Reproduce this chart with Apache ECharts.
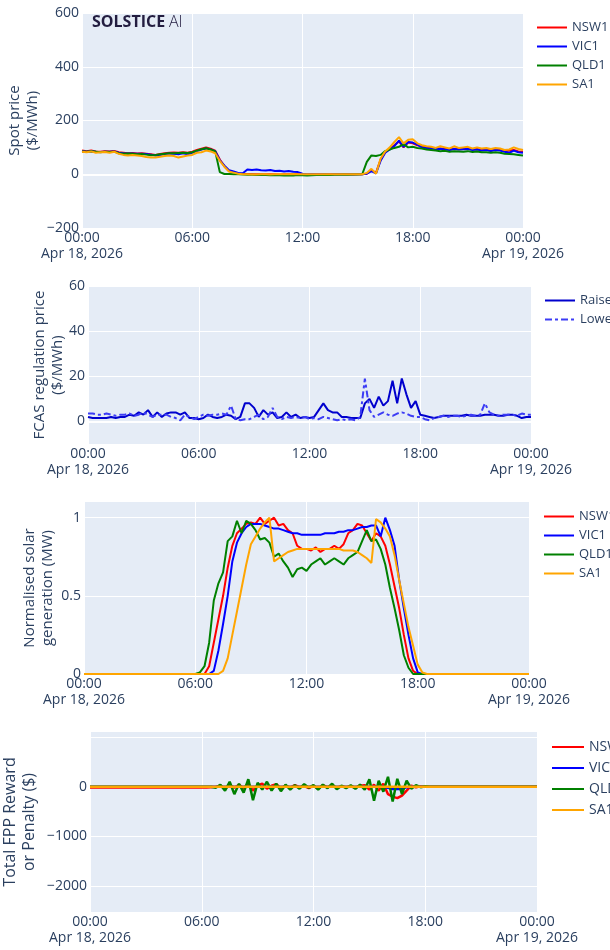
<!DOCTYPE html>
<html>
<head>
<meta charset="utf-8">
<title>NEM regional overview</title>
<script src="https://cdn.jsdelivr.net/npm/echarts@6/dist/echarts.min.js"></script>
<style>
  html, body { margin: 0; padding: 0; background: #fff; }
  #chart { width: 610px; height: 950px; }
</style>
</head>
<body>
<div id="chart"></div>
<script>
// 15-minute intervals, Apr 18 2026 00:00 -> Apr 19 2026 00:00 (97 points)
const STEP_HOURS = 0.25;
const xTickHours = [0, 6, 12, 18, 24];
const xTickLabels = ['00:00\nApr 18, 2026', '06:00', '12:00', '18:00', '00:00\nApr 19, 2026'];
const regions = ['NSW1', 'VIC1', 'QLD1', 'SA1'];
const regionColors = ['#ff0000', '#0000ff', '#008000', '#ffa500'];

// spot price ($/MWh)
const nswSpot = [
  88, 86, 88, 85, 84, 86, 85, 87, 82, 80, 78, 79, 77, 78, 76, 74, 72, 75, 78, 80, 81, 80, 82, 80,
  84, 90, 95, 100, 95, 88, 55, 30, 12, 8, 3, 1, 1, 0, 0, 0, 0, 0, 0, -1, 0, 0, 1, 0,
  -1, -1, 0, 0, 0, -1, 0, 0, 0, 0, 0, -1, 0, 0, 2, 15, 5, 55, 82, 95, 108, 122, 100, 118,
  115, 108, 104, 100, 98, 95, 96, 94, 92, 95, 93, 94, 96, 92, 94, 90, 91, 88, 92, 90, 86, 88, 90, 85, 84
];
const vicSpot = [
  86, 84, 86, 84, 83, 84, 84, 85, 80, 78, 77, 77, 76, 76, 75, 73, 70, 72, 75, 77, 76, 74, 78, 74,
  80, 86, 92, 96, 92, 86, 52, 32, 15, 10, 5, 4, 18, 16, 18, 15, 14, 16, 12, 13, 10, 12, 9, 8,
  2, 0, 1, 0, 0, 0, -1, 0, 0, 0, 0, 0, 0, 0, 2, 12, 3, 50, 80, 92, 105, 125, 102, 120,
  118, 110, 100, 98, 96, 94, 95, 92, 90, 94, 92, 93, 94, 90, 92, 88, 90, 86, 90, 88, 84, 80, 88, 82, 80
];
const qldSpot = [
  85, 84, 86, 84, 82, 84, 83, 84, 78, 76, 77, 76, 74, 75, 73, 71, 72, 74, 76, 78, 78, 79, 80, 79,
  82, 88, 93, 97, 92, 85, 8, 1, 1, 0, 0, -1, -2, -2, -3, -2, -3, -4, -3, -4, -5, -4, -5, -3,
  -4, -5, -4, -3, -3, -2, -3, -2, -2, -1, -2, -1, -1, 0, 46, 70, 68, 72, 86, 92, 98, 102, 112, 100,
  102, 98, 96, 92, 90, 88, 86, 87, 84, 86, 85, 84, 86, 83, 85, 82, 82, 80, 82, 80, 76, 75, 74, 72, 70
];
const saSpot = [
  84, 82, 85, 80, 82, 83, 80, 84, 76, 72, 70, 72, 70, 68, 64, 62, 62, 65, 68, 70, 68, 62, 66, 70,
  72, 80, 82, 88, 85, 78, 50, 28, 10, 6, 2, 0, 0, -1, -1, 0, 0, -1, 0, 0, 0, 0, 1, 0,
  0, 0, 0, 0, 0, 0, 0, 0, 0, 0, 0, 0, 0, 0, 5, 20, 2, 58, 85, 100, 120, 138, 115, 128,
  130, 115, 108, 104, 102, 98, 104, 100, 96, 104, 98, 100, 102, 96, 100, 96, 98, 94, 98, 96, 90, 92, 100, 94, 90
];

// FCAS regulation price ($/MWh)
const raisePrice = [
  2, 1.5, 1.5, 1.5, 1.5, 2, 1.5, 2, 2, 3, 2.5, 4, 3, 5, 2, 4, 2, 3.5, 4, 4, 3, 4, 1.5, 1.5,
  1, 1.5, 3, 2, 1.5, 2, 3, 2.5, 1, 2, 8, 8, 6, 2, 5, 3, 4, 1.5, 2, 4, 2, 3, 1.5, 2,
  1.5, 2, 5, 8, 5, 4, 4, 2, 2, 1.5, 1.5, 1.5, 8, 10, 6, 11, 7, 9, 18, 8, 19, 12, 6, 9,
  3, 2.5, 2, 1.5, 2, 2.5, 2.5, 2.5, 2.5, 2.5, 3, 2.5, 2.5, 2.5, 3, 3, 3, 2.5, 2.5, 3, 3, 2.5, 1.5, 2, 2
];
const lowerPrice = [
  3.5, 3.5, 3, 3, 3.5, 3, 2.5, 3, 3, 3.5, 2.5, 3, 4, 3, 2, 3, 3, 3, 2, 1.5, 0.5, 3, 2, 1,
  2, 3, 2.5, 3, 3, 3.5, 3, 7, 1, 0.5, 1, 1, 2, 3, 1, 2, 6, 2, 1, 2, 1.5, 2, 1.5, 2,
  1, 1.5, 1, 2, 1.5, 1, 0.5, 1, 0.5, 1, 0.5, 2, 19, 5, 2, 3, 4, 3, 2.5, 3.5, 4, 3.5, 2.5, 2,
  2, 1, 0.5, 1.5, 2, 2.5, 2, 2.5, 2.5, 2, 2.5, 3, 2.5, 3, 8, 4, 3, 2.5, 3, 3, 3, 2.5, 3.5, 3, 3
];

// normalised solar generation
const nswSolar = [
  0, 0, 0, 0, 0, 0, 0, 0, 0, 0, 0, 0, 0, 0, 0, 0, 0, 0, 0, 0, 0, 0, 0, 0,
  0, 0, 0, 0.05, 0.2, 0.35, 0.5, 0.68, 0.82, 0.9, 0.93, 0.96, 0.97, 0.96, 1.0, 0.96, 0.98, 1.0, 0.95, 0.96, 0.92, 0.9, 0.82, 0.8,
  0.8, 0.79, 0.81, 0.78, 0.8, 0.8, 0.82, 0.8, 0.83, 0.9, 0.92, 0.96, 0.95, 0.9, 0.85, 0.9, 0.88, 0.82, 0.7, 0.56, 0.42, 0.25, 0.1, 0.02,
  0, 0, 0, 0, 0, 0, 0, 0, 0, 0, 0, 0, 0, 0, 0, 0, 0, 0, 0, 0, 0, 0, 0, 0, 0
];
const vicSolar = [
  0, 0, 0, 0, 0, 0, 0, 0, 0, 0, 0, 0, 0, 0, 0, 0, 0, 0, 0, 0, 0, 0, 0, 0,
  0, 0, 0, 0, 0.02, 0.15, 0.32, 0.5, 0.72, 0.84, 0.9, 0.94, 0.96, 0.96, 0.96, 0.95, 0.94, 0.93, 0.93, 0.92, 0.91, 0.9, 0.9, 0.89,
  0.89, 0.89, 0.89, 0.89, 0.9, 0.9, 0.9, 0.91, 0.91, 0.92, 0.92, 0.93, 0.94, 0.94, 0.95, 0.95, 0.88, 1.0, 0.92, 0.82, 0.6, 0.42, 0.25, 0.1,
  0.01, 0, 0, 0, 0, 0, 0, 0, 0, 0, 0, 0, 0, 0, 0, 0, 0, 0, 0, 0, 0, 0, 0, 0, 0
];
const qldSolar = [
  0, 0, 0, 0, 0, 0, 0, 0, 0, 0, 0, 0, 0, 0, 0, 0, 0, 0, 0, 0, 0, 0, 0, 0,
  0, 0.01, 0.05, 0.2, 0.47, 0.58, 0.65, 0.85, 0.88, 0.98, 0.9, 0.98, 0.96, 0.92, 0.86, 0.87, 0.84, 0.75, 0.77, 0.72, 0.68, 0.62, 0.67, 0.68,
  0.66, 0.7, 0.72, 0.74, 0.7, 0.72, 0.74, 0.72, 0.7, 0.74, 0.76, 0.78, 0.85, 0.92, 0.85, 0.86, 0.8, 0.7, 0.55, 0.42, 0.28, 0.12, 0.04, 0,
  0, 0, 0, 0, 0, 0, 0, 0, 0, 0, 0, 0, 0, 0, 0, 0, 0, 0, 0, 0, 0, 0, 0, 0, 0
];
const saSolar = [
  0, 0, 0, 0, 0, 0, 0, 0, 0, 0, 0, 0, 0, 0, 0, 0, 0, 0, 0, 0, 0, 0, 0, 0,
  0, 0, 0, 0, 0, 0, 0.02, 0.1, 0.25, 0.4, 0.55, 0.7, 0.83, 0.88, 0.93, 0.97, 1.0, 0.72, 0.74, 0.76, 0.78, 0.79, 0.8, 0.8,
  0.8, 0.8, 0.8, 0.8, 0.8, 0.8, 0.8, 0.8, 0.79, 0.79, 0.79, 0.78, 0.76, 0.74, 0.71, 0.99, 0.97, 0.93, 0.88, 0.76, 0.6, 0.45, 0.3, 0.18,
  0.06, 0.01, 0, 0, 0, 0, 0, 0, 0, 0, 0, 0, 0, 0, 0, 0, 0, 0, 0, 0, 0, 0, 0, 0, 0
];

// total FPP reward or penalty ($)
const nswFpp = [
  -15, -15, -15, -15, -15, -15, -15, -15, -15, -15, -15, -15, -15, -15, -15, -15, -15, -15, -15, -15, -15, -15, -15, -15,
  -15, -15, -10, 0, 20, -40, 30, -20, 40, -30, 60, -80, 30, 60, -40, 20, 50, -30, 20, -20, 30, -10, 10, -30,
  20, -40, 30, -10, 20, -20, 10, -10, 10, -20, 20, 30, -60, 40, -80, 60, -150, -200, -230, -180, -80, 20, -10, 10,
  0, 0, 0, 0, 0, 0, 0, 0, 0, 0, 0, 0, 0, 0, 0, 0, 0, 0, 0, 0, 0, 0, 0, 0, 0
];
const vicFpp = [
  0, 0, 0, 0, 0, 0, 0, 0, 0, 0, 0, 0, 0, 0, 0, 0, 0, 0, 0, 0, 0, 0, 0, 0,
  0, 0, 0, 0, 0, 0, 0, 0, 0, 0, 0, 0, 0, 0, 0, 0, 0, 0, 0, 0, 0, 0, 0, 0,
  0, 0, 0, 0, 0, 0, 0, 0, 0, 0, 0, 0, 0, 0, 0, 0, -20, -45, -45, -45, -10, 0, 0, 0,
  0, 0, 0, 0, 0, 0, 0, 0, 0, 0, 0, 0, 0, 0, 0, 0, 0, 0, 0, 0, 0, 0, 0, 0, 0
];
const qldFpp = [
  0, 0, 0, 0, 0, 0, 0, 0, 0, 0, 0, 0, 0, 0, 0, 0, 0, 0, 0, 0, 0, 0, 0, 0,
  0, 0, 0, -20, 40, -80, 100, -150, 60, -120, 150, -270, 80, -60, 100, -80, 60, -90, 40, -60, 30, -40, 50, -20,
  30, -60, 40, -30, 60, -50, 20, -30, 30, -40, 40, -60, 150, -280, 120, -100, 200, -300, 160, -150, 120, -40, 30, -10,
  10, 0, 0, 0, 0, 0, 0, 0, 0, 0, 0, 0, 0, 0, 0, 0, 0, 0, 0, 0, 0, 0, 0, 0, 0
];
const saFpp = [
  0, 0, 0, 0, 0, 0, 0, 0, 0, 0, 0, 0, 0, 0, 0, 0, 0, 0, 0, 0, 0, 0, 0, 0,
  0, 0, 0, 0, 0, 0, 0, 0, 0, 0, 0, 0, 0, 0, 0, 0, 0, 0, 0, 0, 0, 0, 0, 0,
  0, 0, 0, 0, 0, 0, 0, 0, 0, 0, 0, 0, 0, 0, 0, 0, 0, 0, 0, 0, 0, 0, 0, 0,
  0, 0, 0, 0, 0, 0, 0, 0, 0, 0, 0, 0, 0, 0, 0, 0, 0, 0, 0, 0, 0, 0, 0, 0, 0
];

const FONT = '"Open Sans", "Noto Sans", sans-serif';
const TEXT = '#2a3f5f';

function toPoints(vals) {
  return vals.map((v, i) => [i * STEP_HOURS, v]);
}

function xLabel(v) {
  const i = xTickHours.indexOf(v);
  return i >= 0 ? xTickLabels[i] : '';
}

function yLabel(v) {
  return String(v).replace('-', '\u2212');
}

function makeX(gridIndex, fontSize) {
  return {
    type: 'value', gridIndex: gridIndex, min: 0, max: 24, interval: 6,
    axisLine: { show: false }, axisTick: { show: false },
    splitLine: { lineStyle: { color: '#ffffff', width: 1 } },
    axisLabel: {
      formatter: xLabel, color: TEXT, fontSize: fontSize, fontFamily: FONT,
      lineHeight: 16, margin: 2, showMinLabel: true, showMaxLabel: true, hideOverlap: false
    }
  };
}

function makeY(gridIndex, opts) {
  const y = {
    type: 'value', gridIndex: gridIndex, min: opts.min, max: opts.max,
    axisLine: { show: false },
    axisTick: { show: false },
    splitLine: { lineStyle: { color: '#ffffff', width: 1 } },
    axisLabel: { formatter: yLabel, color: TEXT, fontSize: opts.fontSize, fontFamily: FONT, margin: 3 },
    name: opts.name, nameLocation: 'middle', nameGap: opts.nameGap, nameMoveOverlap: false,
    nameTextStyle: { color: TEXT, fontSize: opts.nameSize, fontFamily: FONT, lineHeight: opts.nameSize + 3 }
  };
  if (opts.interval) y.interval = opts.interval;
  if (opts.ticks) {
    y.axisTick.customValues = opts.ticks;
    y.axisLabel.customValues = opts.labels || opts.ticks;
  }
  return y;
}

function zeroLine() {
  return {
    silent: true, symbol: 'none', z: 1, animation: false,
    label: { show: false },
    lineStyle: { color: '#ffffff', width: 2, type: 'solid' },
    emphasis: { disabled: true },
    data: [{ yAxis: 0 }]
  };
}

function lineSeries(name, vals, color, idx, width, extra) {
  const s = {
    name: name, type: 'line', xAxisIndex: idx, yAxisIndex: idx,
    data: toPoints(vals), symbol: 'none', showSymbol: false,
    lineStyle: { color: color, width: width }, itemStyle: { color: color },
    emphasis: { disabled: true }
  };
  return Object.assign(s, extra || {});
}

function makeLegend(names, left, top, gap, fontSize, itemWidth) {
  return {
    data: names, orient: 'vertical', left: left, top: top, padding: 0,
    itemWidth: itemWidth, itemHeight: 14, itemGap: gap,
    itemStyle: { opacity: 0 },
    textStyle: { color: TEXT, fontSize: fontSize, fontFamily: FONT }
  };
}

const spotSets = [nswSpot, vicSpot, qldSpot, saSpot];
const solarSets = [nswSolar, vicSolar, qldSolar, saSolar];
const fppSets = [nswFpp, vicFpp, qldFpp, saFpp];

const series = [];
regions.forEach((r, k) => {
  series.push(lineSeries(r, spotSets[k], regionColors[k], 0, 2, k === 0 ? { markLine: zeroLine() } : null));
});
series.push(lineSeries('Raise', raisePrice, '#0000cd', 1, 2, { markLine: zeroLine() }));
series.push(lineSeries('Lower', lowerPrice, '#3c3cf5', 1, 2));
series[series.length - 1].lineStyle.type = [7, 3, 3, 3];
regions.forEach((r, k) => {
  series.push(lineSeries(r, solarSets[k], regionColors[k], 2, 2));
});
regions.forEach((r, k) => {
  series.push(lineSeries(r, fppSets[k], regionColors[k], 3, 2.5, k === 0 ? { markLine: zeroLine() } : null));
});

const chart = echarts.init(document.getElementById('chart'));
chart.setOption({
  animation: false,
  backgroundColor: '#ffffff',
  grid: [
    { left: 82, top: 13, width: 441, height: 215 },
    { left: 88, top: 286, width: 443, height: 158 },
    { left: 84, top: 502, width: 445, height: 172 },
    { left: 90, top: 732, width: 447, height: 180 }
  ].map(g => Object.assign(g, {
    show: true, backgroundColor: '#E5ECF6', borderWidth: 0,
    containLabel: false, outerBoundsMode: 'none'
  })),
  xAxis: [makeX(0, 14), makeX(1, 14), makeX(2, 14), makeX(3, 14)],
  yAxis: [
    makeY(0, { min: -200, max: 600, interval: 200, fontSize: 14, name: 'Spot price\n($/MWh)', nameGap: 40, nameSize: 15 }),
    makeY(1, { min: -10, max: 60, ticks: [0, 20, 40, 60], fontSize: 14, name: 'FCAS regulation price\n($/MWh)', nameGap: 21, nameSize: 15 }),
    makeY(2, { min: 0, max: 1.1, ticks: [0, 0.5, 1], fontSize: 14, name: 'Normalised solar\ngeneration (MW)', nameGap: 27, nameSize: 15 }),
    makeY(3, { min: -2520, max: 1100, ticks: [-2000, -1000, 0, 1000], labels: [-2000, -1000, 0], fontSize: 14, name: 'Total FPP Reward\nor Penalty ($)', nameGap: 51, nameSize: 16 })
  ],
  legend: [
    makeLegend(regions, 536, 21, 6, 13, 30),
    makeLegend(['Raise', 'Lower'], 544, 294, 6, 13, 30),
    makeLegend(regions, 543, 510, 6, 13, 30),
    makeLegend(regions, 551, 740, 7, 14, 32)
  ],
  graphic: [
    { type: 'text', left: 92, top: 14, z: 10, style: { text: 'SOLSTICE', font: 'bold 16px "Open Sans"', fill: '#231d40' } },
    { type: 'text', left: 169, top: 14, z: 10, style: { text: 'AI', font: '300 16px "Open Sans"', fill: '#231d40' } }
  ],
  series: series
});
</script>
</body>
</html>
